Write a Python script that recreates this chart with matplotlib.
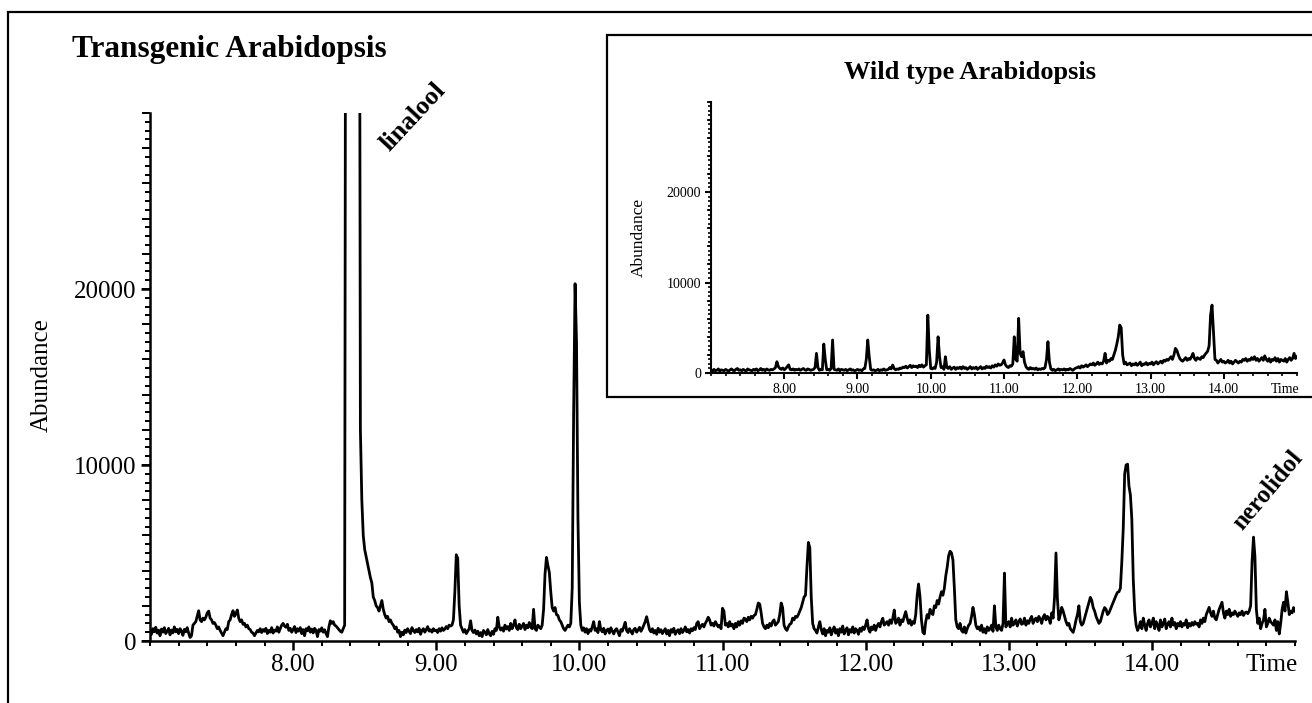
import numpy as np
import matplotlib.pyplot as plt
from matplotlib.patches import Rectangle
from matplotlib.ticker import FixedLocator, MultipleLocator, NullFormatter

plt.rcParams["font.family"] = ["Liberation Serif", "DejaVu Serif"]

# Transgenic line, TIC sampled every 0.01 min from 7.00 to 15.00
transgenic_abundance = [
    600, 380, 700, 520, 780, 450, 620, 300, 680, 500, 760, 420, 560, 720, 350, 620, 460, 800, 520, 660,
    420, 700, 560, 320, 660, 520, 760, 450, 200, 300, 900, 1000, 1100, 1400, 1720, 1200, 1100, 1300, 1200, 1350,
    1600, 1700, 1300, 1200, 1000, 1050, 900, 700, 800, 600, 450, 300, 500, 700, 650, 1100, 1200, 1500, 1720, 1400,
    1550, 1760, 1300, 1100, 1200, 950, 1000, 800, 900, 700, 650, 500, 450, 300, 450, 600, 520, 700, 480, 650,
    550, 720, 420, 600, 500, 760, 450, 620, 560, 800, 500, 700, 900, 1000, 850, 780, 950, 600, 720, 500,
    650, 820, 480, 700, 560, 760, 420, 650, 300, 700, 580, 800, 500, 680, 460, 720, 600, 250, 650, 560,
    750, 500, 640, 420, 250, 800, 1150, 1000, 1100, 900, 850, 750, 650, 550, 500, 700, 900, 60000, 60000, 60000,
    60000, 60000, 60000, 60000, 60000, 60000, 60000, 12000, 8000, 6000, 5200, 4800, 4400, 4000, 3600, 3300, 2500, 2300, 2000, 1900,
    1700, 2000, 2300, 1800, 1500, 1300, 1400, 1100, 1200, 1000, 900, 700, 800, 500, 600, 250, 500, 350, 620, 480,
    700, 550, 420, 760, 600, 480, 650, 520, 720, 380, 600, 700, 500, 650, 820, 560, 640, 500, 700, 580,
    620, 480, 700, 560, 750, 600, 680, 820, 700, 900, 850, 900, 1200, 2800, 4900, 4700, 2000, 900, 700, 500,
    650, 420, 560, 700, 1150, 600, 480, 620, 400, 560, 300, 480, 250, 600, 500, 350, 650, 420, 300, 550,
    380, 700, 600, 1350, 800, 620, 750, 560, 900, 680, 820, 600, 1000, 700, 900, 1200, 750, 650, 950, 700,
    850, 1000, 650, 900, 750, 1050, 800, 700, 1800, 700, 600, 900, 800, 700, 900, 1800, 3800, 4750, 4300, 3900,
    2800, 1900, 1700, 1900, 1500, 1450, 1200, 1100, 900, 700, 600, 750, 900, 800, 1000, 3000, 13000, 20300, 17000, 7000,
    2200, 900, 600, 750, 500, 700, 420, 650, 560, 800, 1100, 600, 700, 480, 1100, 650, 520, 720, 400, 600,
    680, 450, 750, 560, 400, 620, 700, 500, 300, 650, 560, 800, 1060, 600, 480, 700, 550, 400, 650, 720,
    500, 620, 780, 550, 700, 900, 1100, 1380, 1000, 650, 520, 700, 450, 600, 380, 720, 500, 640, 420, 560,
    700, 400, 600, 300, 650, 500, 720, 380, 560, 640, 420, 700, 480, 600, 800, 520, 650, 450, 700, 580,
    760, 650, 1000, 1100, 700, 850, 950, 800, 1000, 1150, 1350, 1200, 900, 1000, 850, 1100, 950, 800, 900, 700,
    1860, 1700, 900, 1000, 800, 1100, 850, 950, 700, 1000, 800, 1100, 900, 1150, 1000, 1300, 1250, 1100, 1350, 1200,
    1400, 1300, 1450, 1500, 1800, 2160, 2100, 1600, 1000, 800, 700, 900, 750, 1000, 850, 1100, 1200, 900, 1000, 1100,
    1500, 2160, 1900, 900, 700, 600, 800, 950, 1000, 1300, 1200, 1400, 1350, 1500, 1700, 1900, 2200, 2500, 2600, 4200,
    5600, 5300, 2500, 1000, 700, 600, 450, 800, 1100, 650, 400, 700, 300, 600, 500, 750, 350, 600, 800, 450,
    650, 300, 700, 500, 850, 400, 600, 750, 350, 650, 500, 800, 450, 700, 600, 380, 720, 550, 800, 650,
    900, 1200, 700, 500, 800, 650, 900, 600, 850, 1000, 800, 1100, 1290, 900, 1000, 1100, 900, 1200, 1000, 1300,
    1760, 1000, 1100, 1300, 900, 1200, 1100, 1400, 1670, 1300, 1000, 1200, 900, 1100, 1000, 1500, 2600, 3240, 2500, 1200,
    500, 400, 1100, 1500, 1300, 1800, 1600, 1500, 2000, 1900, 2300, 2100, 2500, 2800, 2600, 3000, 3700, 4200, 4850, 5100,
    5000, 4600, 3000, 1200, 800, 700, 1000, 600, 500, 800, 450, 700, 900, 1000, 1400, 1910, 1500, 900, 700, 800,
    600, 900, 500, 700, 450, 800, 600, 700, 900, 550, 2000, 800, 600, 900, 700, 600, 1000, 3860, 800, 1000,
    1100, 800, 1300, 900, 1000, 1200, 850, 1100, 1250, 950, 1000, 1300, 900, 1150, 1000, 1250, 1400, 1000, 1200, 1300,
    1100, 1400, 1250, 1000, 1350, 1500, 1200, 1400, 1300, 1000, 1600, 1300, 2500, 5000, 2400, 1200, 1500, 1910, 1700, 1400,
    1100, 900, 1000, 700, 600, 490, 800, 1200, 1500, 2000, 1100, 900, 1000, 1300, 1600, 1900, 2200, 2480, 2300, 1900,
    1700, 1400, 1200, 1000, 1100, 1400, 1700, 1900, 1800, 1500, 1600, 1800, 2000, 2200, 2390, 2600, 2770, 2800, 3000, 4500,
    6400, 9500, 10000, 10050, 8800, 8300, 6900, 3500, 1700, 900, 600, 800, 1100, 700, 1300, 900, 600, 1000, 1200, 800,
    1000, 1300, 700, 1100, 900, 600, 1200, 800, 1000, 1250, 700, 950, 1100, 800, 1300, 900, 1050, 700, 1000, 850,
    1100, 800, 1000, 900, 1200, 750, 1000, 850, 1050, 900, 1100, 950, 1000, 800, 1200, 1000, 1300, 1100, 1500, 1700,
    1910, 1600, 1400, 1700, 1300, 1200, 1500, 1800, 2000, 2200, 1600, 1300, 1700, 1500, 1800, 1400, 1600, 1500, 1700, 1550,
    1400, 1600, 1500, 1700, 1450, 1600, 1650, 1550, 1700, 2000, 4500, 5900, 4800, 1800, 1000, 1300, 700, 1000, 1200, 1800,
    800, 1000, 1300, 1100, 1000, 900, 1200, 600, 1100, 400, 1000, 1800, 2200, 1700, 2800, 2200, 1500, 1700, 1600, 1900,
    1700,
]

# Wild type, TIC sampled every 0.02 min from 7.00 to 15.00
wildtype_abundance = [
    350, 200, 400, 250, 300, 450, 200, 350, 300, 250,
    400, 300, 200, 350, 450, 300, 250, 400, 500, 300,
    350, 250, 400, 300, 200, 450, 350, 300, 250, 400,
    300, 450, 250, 350, 500, 300, 400, 250, 450, 350,
    300, 400, 350, 450, 600, 1250, 700, 500, 400, 550,
    350, 500, 700, 900, 400, 350, 450, 300, 400, 350,
    450, 300, 400, 500, 350, 300, 450, 400, 300, 350,
    400, 600, 2170, 600, 300, 400, 350, 3200, 1500, 350,
    400, 300, 500, 3650, 400, 350, 300, 450, 250, 400,
    350, 300, 400, 250, 350, 450, 300, 350, 250, 300,
    400, 300, 350, 250, 450, 500, 1500, 3650, 1800, 400,
    300, 350, 250, 300, 400, 250, 350, 300, 450, 300,
    350, 400, 600, 450, 880, 500, 350, 450, 400, 550,
    500, 650, 600, 750, 550, 700, 850, 600, 800, 700,
    750, 600, 850, 700, 900, 650, 800, 900, 6400, 2500,
    500, 450, 600, 500, 1200, 4000, 1800, 600, 700, 400,
    1800, 600, 500, 700, 400, 550, 650, 400, 600, 500,
    650, 450, 700, 500, 600, 400, 550, 700, 450, 600,
    500, 650, 400, 550, 700, 450, 600, 500, 750, 600,
    700, 550, 800, 650, 900, 750, 1000, 850, 900, 1100,
    1440, 900, 700, 600, 800, 750, 1000, 4000, 1500, 1300,
    6040, 2170, 1800, 2360, 1200, 700, 500, 400, 600, 450,
    500, 400, 550, 350, 450, 400, 500, 450, 600, 1500,
    3460, 1200, 450, 300, 400, 250, 350, 450, 300, 400,
    350, 450, 300, 400, 350, 500, 400, 300, 450, 550,
    600, 700, 550, 800, 650, 750, 900, 700, 850, 1000,
    900, 1100, 850, 1000, 1200, 950, 1100, 1000, 1300, 2170,
    1100, 1400, 1300, 1600, 1500, 2000, 2500, 3200, 4000, 5300,
    5000, 2000, 1000, 1200, 900, 1000, 1100, 800, 1000, 900,
    1100, 850, 1000, 1200, 800, 1000, 950, 1150, 900, 1050,
    1000, 1200, 900, 1100, 1250, 1000, 1150, 1300, 1100, 1400,
    1300, 1500, 1400, 1600, 1800, 1500, 2000, 2720, 2500, 2000,
    1600, 1400, 1300, 1500, 1700, 1400, 1600, 1500, 1800, 2170,
    1600, 1400, 1700, 1600, 1500, 1800, 1700, 2000, 2200, 2400,
    3000, 6400, 7500, 4500, 1500, 1400, 1100, 1300, 1500, 1200,
    1300, 1100, 1200, 1400, 1100, 1300, 1000, 1200, 1400, 1250,
    1100, 1300, 1200, 1500, 1400, 1600, 1300, 1500, 1400, 1700,
    1500, 1800, 1400, 1600, 1300, 1500, 1700, 1400, 1900, 1500,
    1300, 1600, 1200, 1500, 1400, 1700, 1300, 1600, 1200, 1500,
    1400, 1300, 1600, 1200, 1500, 1700, 1400, 1600, 2170, 1600,
    1800,
]

time_range = (7.0, 15.0)
time_labels = [8.0, 9.0, 10.0, 11.0, 12.0, 13.0, 14.0]
abundance_labels = [0, 10000, 20000]
peak_names = ["linalool", "nerolidol"]

transgenic_time = np.linspace(*time_range, len(transgenic_abundance))
wildtype_time = np.linspace(*time_range, len(wildtype_abundance))


def style_chromatogram(ax, tick_size, major_len, minor_len, lw):
    ax.set_xlim(*time_range)
    ax.set_ylim(0, 30000)
    ax.patch.set_visible(False)
    for side in ("top", "right"):
        ax.spines[side].set_visible(False)
    for side in ("left", "bottom"):
        ax.spines[side].set_linewidth(lw)
    ax.xaxis.set_major_locator(FixedLocator(time_labels))
    ax.xaxis.set_minor_locator(MultipleLocator(0.2))
    ax.set_xticklabels([f"{t:.2f}" for t in time_labels])
    ax.yaxis.set_major_locator(FixedLocator(abundance_labels))
    ax.yaxis.set_minor_locator(MultipleLocator(500))
    ax.yaxis.set_minor_formatter(NullFormatter())
    ax.set_yticklabels([str(v) for v in abundance_labels])
    ax.tick_params(which="major", direction="out", length=major_len, width=lw,
                   labelsize=tick_size, pad=3)
    ax.tick_params(which="minor", direction="out", length=minor_len, width=lw * 0.8)

    # longer ticks every 2000 on the abundance axis
    sec = ax.secondary_yaxis("left")
    sec.set_yticks(np.arange(0, 30001, 2000))
    sec.tick_params(length=minor_len * 1.6, width=lw * 0.8, labelleft=False)
    sec.spines["left"].set_visible(False)

    ax.annotate("Time", xy=(1, 0), xycoords="axes fraction",
                xytext=(2, -(major_len + 3)), textcoords="offset points",
                ha="right", va="top", fontsize=tick_size)


fig = plt.figure(figsize=(13.12, 7.03), dpi=100)

# main chromatogram
ax = fig.add_axes([150 / 1312, 62 / 703, 1145 / 1312, 528 / 703])
ax.plot(transgenic_time, transgenic_abundance, color="black", lw=2.0)
style_chromatogram(ax, tick_size=18, major_len=6.5, minor_len=3.5, lw=1.8)
ax.text(8.67, 27800, peak_names[0], rotation=47, rotation_mode="anchor",
        ha="left", va="baseline", fontsize=19, fontweight="bold", clip_on=False)
ax.text(14.63, 6250, peak_names[1], rotation=50, rotation_mode="anchor",
        ha="left", va="baseline", fontsize=18, fontweight="bold", clip_on=False)
fig.text(72 / 1312, 1 - 50 / 703, "Transgenic Arabidopsis", fontsize=22.5,
         fontweight="bold", ha="left", va="center")
fig.text(42 / 1312, 1 - 375 / 703, "Abundance", rotation=90, fontsize=18,
         ha="center", va="center")

# outer frame and inset box
fig.patches.append(Rectangle((8 / 1312, -0.1), 1.2, 0.1 + 1 - 12 / 703,
                             transform=fig.transFigure, fill=False,
                             edgecolor="black", lw=1.6, zorder=1))
fig.patches.append(Rectangle((607 / 1312, 1 - 397 / 703), 0.6, (397 - 35) / 703,
                             transform=fig.transFigure, facecolor="white",
                             edgecolor="black", lw=1.6, zorder=1))

# wild type inset
ins = fig.add_axes([711 / 1312, 330 / 703, 586 / 1312, 271.5 / 703])
ins.set_zorder(2)
ins.plot(wildtype_time, wildtype_abundance, color="black", lw=2.0)
style_chromatogram(ins, tick_size=10, major_len=4, minor_len=2, lw=1.5)
fig.text(970 / 1312, 1 - 72 / 703, "Wild type Arabidopsis", fontsize=19,
         fontweight="bold", ha="center", va="center")
fig.text(639 / 1312, 1 - 237 / 703, "Abundance", rotation=90, fontsize=12.5,
         ha="center", va="center")

fig.savefig("out.png", dpi=100)
